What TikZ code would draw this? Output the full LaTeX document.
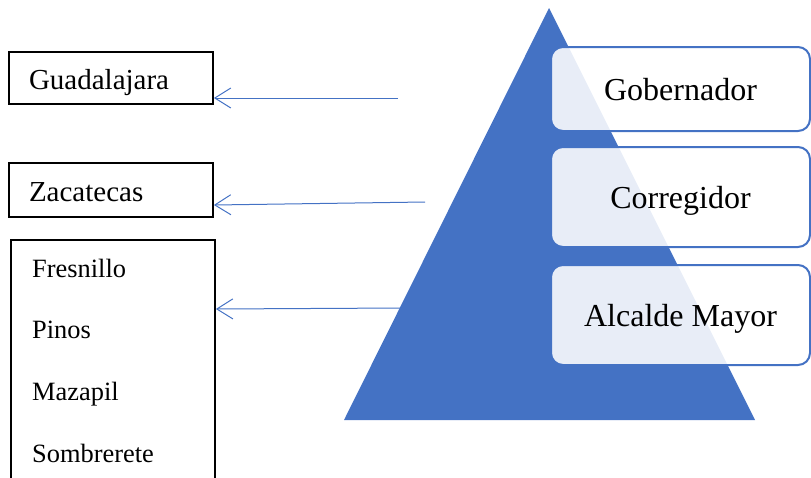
\documentclass[tikz,border=0pt]{standalone}
\usepackage{fontspec}
\setmainfont{Liberation Serif}
\usetikzlibrary{arrows.meta}
\definecolor{piramide}{HTML}{4472C4}
\tikzset{
  cargo/.style={draw=piramide,line width=2pt,rounded corners=12pt,
    fill=white,fill opacity=.88,text opacity=1,
    minimum width=259pt,minimum height=84pt,text height=22pt,text depth=0pt,
    font=\fontsize{32}{38}\selectfont},
  lugar/.style={draw,line width=1.8pt,minimum width=204pt,
    minimum height=52pt,text width=164pt,inner xsep=20pt,align=left,
    text height=23pt,text depth=0pt,
    font=\fontsize{29}{34}\selectfont},
  flecha/.style={draw=piramide,line width=1pt,
    -{Straight Barb[length=16pt,width=20pt,line width=1pt]}}
}
\begin{document}
\begin{tikzpicture}[x=1pt,y=-1pt]
\clip (0,0) rectangle (811,477);
%piramide
\fill[piramide] (549,8) -- (755,420) -- (344,420) -- cycle;
\node[cargo] (gob) at (680.5,89) {Gobernador};
\node[cargo,minimum height=100pt] (cor) at (680.5,197) {Corregidor};
\node[cargo,minimum height=100pt] (alc) at (680.5,315) {Alcalde Mayor};
%
\node[lugar] (guad) at (111,78) {Guadalajara};
\node[lugar,minimum height=54pt] (zac) at (111,190) {Zacatecas};
\node[draw,line width=1.8pt,minimum width=204pt,minimum height=260pt] (lista) at (113,370) {};
\begin{scope}[font=\fontsize{26.4}{30}\selectfont]
\node[anchor=base west,inner sep=0pt] (fre) at (32,277) {Fresnillo};
\node[anchor=base west,inner sep=0pt] (pin) at (32,338) {Pinos};
\node[anchor=base west,inner sep=0pt] (maz) at (32,400) {Mazapil};
\node[anchor=base west,inner sep=0pt] (som) at (32,462) {Sombrerete};
\end{scope}
%flechas
\coordinate (g0) at (398,98);
\coordinate (z0) at (425,202);
\coordinate (l0) at (403,308);
\draw[flecha] (g0) -- ([yshift=-20pt]guad.east);
\draw[flecha] (z0) -- ([yshift=-15pt]zac.east);
\draw[flecha] (l0) -- ([yshift=61pt]lista.east);
\end{tikzpicture}
\end{document}
